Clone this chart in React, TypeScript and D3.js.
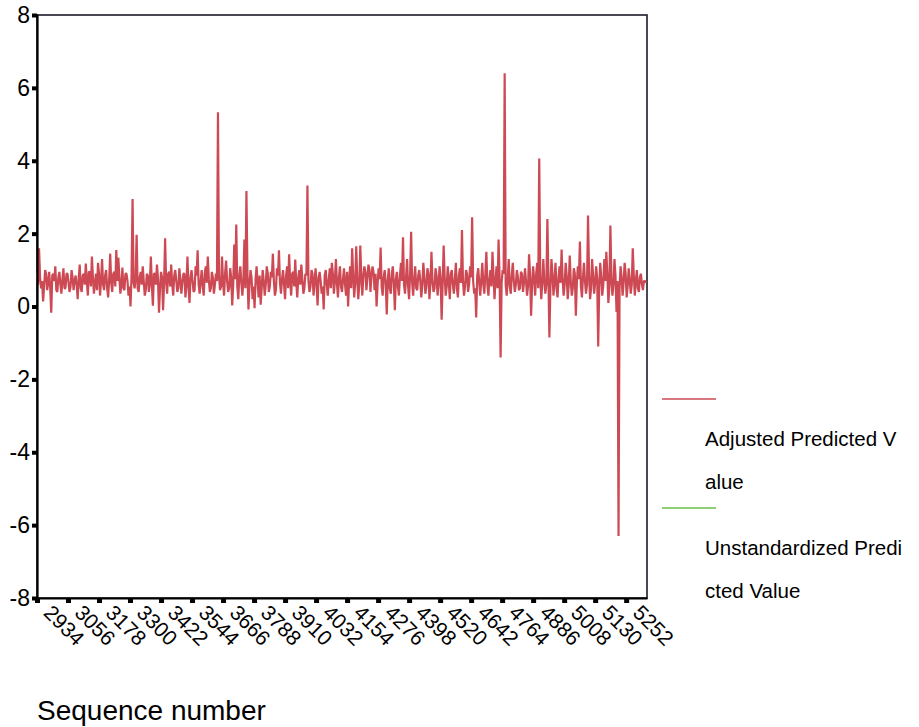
import { useEffect, useRef } from "react";
import * as d3 from "d3";

// Sequence numbers: cases sampled every 4th case, starting at case 2934
const firstCase = 2934;
const caseStep = 8; // step within each array; the two arrays interleave
const lastCase = 5334;

// Adjusted predicted value at cases 2934, 2942, 2950, ... (peaks and dips of the band)
const adjustedValues = [
  0.9, 1.6, 0.5, 0.14, 1.0, 0.45, 0.95, -0.17, 0.9, 1.1, 0.4, 0.95, 0.35, 1.05, 0.5, 0.9, 0.4, 1.0, 0.45, 0.85,
  0.2, 1.15, 0.4, 0.9, 1.18, 0.3, 0.95, 1.37, 0.35, 0.9, 1.2, 0.3, 1.3, 0.45, 1.0, 0.25, 1.45, 0.4, 0.95, 1.55,
  1.34, 0.35, 1.07, 0.45, 0.9, 0.3, 0.0, 2.95, 0.5, 1.97, 0.4, 0.95, 1.1, 0.3, 0.9, 0.4, 1.37, 0.02, 0.9, 1.15,
  -0.17, 0.95, -0.1, 1.87, 0.35, 0.95, 1.15, 0.3, 1.0, 0.4, 1.05, 0.35, 0.9, 0.25, 1.37, 0.1, 1.0, 0.4, 1.1, 1.54,
  0.35, 1.0, 0.3, 1.1, 1.37, 0.4, 0.95, 0.35, 0.9, 5.33, 0.45, 1.37, 0.3, 1.26, 0.4, 1.05, 0.03, 1.7, 2.25, 0.2,
  1.1, 0.3, 1.84, 3.17, -0.08, 1.0, 0.2, -0.05, 1.1, 0.25, 0.05, 1.0, 0.3, 1.1, 0.4, 0.95, 1.45, 0.3, 1.05, 1.54,
  0.35, 1.0, 0.2, 1.1, 1.43, 0.3, 0.95, 1.29, 0.25, 1.0, 1.15, 0.35, 0.9, 3.32, 0.4, 1.0, 0.3, 1.05, 0.03, 0.95,
  0.35, -0.08, 1.0, 0.3, 1.05, 1.2, 0.35, 1.3, 0.25, 1.1, 0.4, 1.05, 0.3, 0.0, 1.1, 1.6, 0.25, 1.65, 0.2, 1.67,
  0.3, 1.1, 0.45, 1.15, 0.4, 1.1, 0.45, 0.0, 1.05, 1.62, 0.3, 1.0, -0.22, 1.05, 0.35, 1.1, -0.1, 0.95, 0.3, 1.2,
  1.9, 0.35, 1.3, 0.2, 2.05, 0.3, 1.1, 0.45, 1.0, 0.25, 1.2, 0.35, 1.05, 0.2, 1.5, 0.4, 1.05, 0.3, 1.1, -0.36,
  1.67, 0.3, 1.1, 0.2, 1.0, 0.35, 1.2, 0.25, 1.05, 2.1, 0.3, 1.0, 0.4, 1.1, 2.45, 0.35, -0.3, 1.05, 0.3, 1.2,
  0.35, 1.5, 0.3, 1.0, 1.5, 0.2, 1.1, 1.84, -1.4, 1.0, 6.4, 0.3, 1.3, 0.35, 1.2, 0.4, 1.0, 0.45, 0.95, 0.4,
  1.05, 0.3, 1.43, -0.25, 1.1, 0.3, 1.2, 4.06, 0.2, 1.3, 0.35, 2.4, -0.85, 1.3, 0.3, 1.2, 0.25, 1.1, 1.56, 0.3,
  1.2, 0.2, 1.4, 0.3, 1.05, -0.25, 1.1, 1.78, 0.25, 1.2, 0.35, 2.5, 0.2, 1.3, 0.35, 1.1, -1.1, 1.2, 0.3, 1.3,
  1.5, 0.1, 2.22, 0.3, 1.3, -0.15, -6.3, 1.1, 0.3, 1.2, 0.25, 1.05, 0.35, 1.6, 0.3, 1.0, 0.4, 0.9, 0.45, 0.7,
];

// Adjusted predicted value at cases 2938, 2946, 2954, ... (inside the dense band)
const bandValues = [
  0.6, 0.8, 0.7, 0.55, 0.9, 0.65, 0.5, 0.85, 0.7, 0.45, 0.8, 0.6, 0.75, 0.5, 0.9, 0.65, 0.55, 0.8, 0.7, 0.6,
  0.75, 0.5, 0.85, 0.6, 0.7, 0.95, 0.55, 0.8, 0.65, 0.45, 0.9, 0.7, 0.6, 0.85, 0.5, 0.75, 0.65, 0.9, 0.55, 0.7,
  0.8, 0.6, 0.5, 0.9, 0.7, 0.55, 0.85, 0.65, 0.75, 0.5, 0.8, 0.6, 0.7, 0.45, 0.85, 0.65, 0.55, 0.9, 0.6, 0.75,
  0.5, 0.8, 0.65, 0.7, 0.9, 0.55, 0.6, 0.85, 0.7, 0.5, 0.75, 0.65, 0.9, 0.6, 0.55, 0.8, 0.7, 0.45, 0.85, 0.6,
  0.7, 0.55, 0.9, 0.65, 0.75, 0.5, 0.8, 0.6, 0.7, 0.85, 0.55, 0.65, 0.9, 0.7, 0.5, 0.8, 0.6, 0.75, 0.55, 0.85,
  0.65, 0.7, 0.5, 0.9, 0.6, 0.8, 0.55, 0.75, 0.65, 0.85, 0.5, 0.7, 0.6, 0.9, 0.55, 0.8, 0.7, 0.45, 0.85, 0.65,
  0.75, 0.6, 0.85, 0.5, 0.7, 0.9, 0.55, 0.65, 0.8, 0.6, 0.75, 0.5, 0.85, 0.7, 0.55, 0.9, 0.65, 0.6, 0.8, 0.7,
  0.55, 0.85, 0.6, 0.75, 0.5, 0.9, 0.7, 0.65, 0.8, 0.55, 0.75, 0.6, 0.95, 0.7, 0.5, 0.85, 0.65, 0.75, 0.6, 0.8,
  0.85, 0.95, 0.8, 1.0, 0.85, 0.95, 0.9, 0.6, 0.75, 0.55, 0.8, 0.65, 0.7, 0.5, 0.9, 0.6, 0.75, 0.55, 0.85, 0.7,
  0.6, 0.8, 0.55, 0.9, 0.65, 0.75, 0.5, 0.85, 0.7, 0.6, 0.8, 0.55, 0.9, 0.65, 0.7, 0.5, 0.85, 0.6, 0.75, 0.65,
  0.8, 0.55, 0.7, 0.9, 0.6, 0.75, 0.5, 0.85, 0.65, 0.7, 0.55, 0.9, 0.6, 0.8, 0.7, 0.5, 0.85, 0.65, 0.75, 0.6,
  0.9, 0.6, 0.75, 0.55, 0.85, 0.7, 0.5, 0.8, 0.65, 0.9, 0.6, 0.75, 0.55, 0.85, 0.7, 0.6, 0.8, 0.5, 0.9, 0.65,
  0.7, 0.55, 0.85, 0.6, 0.75, 0.9, 0.5, 0.8, 0.65, 0.7, 0.6, 0.85, 0.55, 0.9, 0.7, 0.5, 0.8, 0.65, 0.75, 0.6,
  0.85, 0.6, 0.7, 0.5, 0.9, 0.65, 0.75, 0.55, 0.8, 0.7, 0.6, 0.9, 0.5, 0.85, 0.65, 0.75, 0.55, 0.8, 0.6, 0.7,
  0.9, 0.55, 0.75, 0.6, 0.85, 0.7, 0.5, 0.8, 0.65, 0.9, 0.55, 0.75, 0.6, 0.85, 0.7, 0.5, 0.8, 0.6, 0.7, 0.65,
];

const xTickLabels = [
  2934, 3056, 3178, 3300, 3422, 3544, 3666, 3788, 3910, 4032,
  4154, 4276, 4398, 4520, 4642, 4764, 4886, 5008, 5130, 5252,
];
const yTicks = [-8, -6, -4, -2, 0, 2, 4, 6, 8];

const seriesNames = [
  ["Adjusted Predicted V", "alue"],
  ["Unstandardized Predi", "cted Value"],
];
const seriesColors = ["#cd4a55", "#6cbf4a"];

const App = () => {
  const ref = useRef<SVGSVGElement | null>(null);

  useEffect(() => {
    if (!ref.current) return;
    d3.select(ref.current).selectAll("*").remove();

    const width = 919;
    const height = 727;
    const plot = { left: 37, right: 647, top: 15, bottom: 598 };
    const font = "'Liberation Sans', Arial, sans-serif";

    const svg = d3
      .select(ref.current)
      .attr("width", width)
      .attr("height", height)
      .style("font-family", font);

    const x = d3
      .scaleLinear()
      .domain([firstCase, lastCase])
      .range([plot.left, plot.right]);

    const y = d3.scaleLinear().domain([-8, 8]).range([plot.bottom, plot.top]);

    // interleave the two sampled arrays into one case-ordered series
    const series: { seq: number; v: number }[] = [];
    adjustedValues.forEach((v, i) => {
      series.push({ seq: firstCase + i * caseStep, v });
      if (i < bandValues.length)
        series.push({ seq: firstCase + i * caseStep + caseStep / 2, v: bandValues[i] });
    });

    // frame (top + right)
    svg
      .append("rect")
      .attr("x", plot.left)
      .attr("y", plot.top)
      .attr("width", plot.right - plot.left)
      .attr("height", plot.bottom - plot.top)
      .attr("fill", "none")
      .attr("stroke", "#1c1c2a")
      .attr("stroke-width", 1.6);

    const line = d3
      .line<{ seq: number; v: number }>()
      .x((d) => x(d.seq))
      .y((d) => y(d.v));

    svg
      .append("path")
      .datum(series)
      .attr("d", line)
      .attr("fill", "none")
      .attr("stroke", seriesColors[0])
      .attr("stroke-width", 2.2)
      .attr("stroke-linejoin", "bevel");

    // Y axis
    const yAxis = svg
      .append("g")
      .attr("transform", `translate(${plot.left},0)`)
      .call(
        d3
          .axisLeft(y)
          .tickValues(yTicks)
          .tickSize(5)
          .tickPadding(2)
          .tickFormat((d) => String(d))
      );
    yAxis.select(".domain").attr("stroke", "#000").attr("stroke-width", 2.2);
    yAxis.selectAll(".tick line").attr("stroke", "#000").attr("stroke-width", 4);
    yAxis
      .selectAll(".tick text")
      .attr("fill", "#000")
      .style("font-size", "23px")
      .style("font-family", font);

    // X axis
    const xAxis = svg
      .append("g")
      .attr("transform", `translate(0,${plot.bottom})`)
      .call(
        d3
          .axisBottom(x)
          .tickValues(xTickLabels)
          .tickSize(5)
          .tickSizeOuter(0)
          .tickFormat((d) => String(d))
      );
    xAxis.select(".domain").attr("stroke", "#000").attr("stroke-width", 2.2);
    xAxis.selectAll(".tick line").attr("stroke", "#000").attr("stroke-width", 5);
    xAxis
      .selectAll(".tick text")
      .attr("fill", "#000")
      .attr("text-anchor", "start")
      .attr("dy", 0)
      .attr("y", 0)
      .attr("transform", "translate(5,16) rotate(45)")
      .style("font-size", "21px")
      .style("font-family", font);

    // X title
    svg
      .append("text")
      .attr("x", 37)
      .attr("y", 720)
      .attr("fill", "#000")
      .style("font-size", "28px")
      .text("Sequence number");

    // Legend
    const legend = svg.append("g");
    const legendRows = [399, 508];
    seriesNames.forEach((lines, k) => {
      const top = legendRows[k];
      legend
        .append("line")
        .attr("x1", 662)
        .attr("x2", 716)
        .attr("y1", top)
        .attr("y2", top)
        .attr("stroke", seriesColors[k])
        .attr("stroke-width", 1.6);
      lines.forEach((t, j) => {
        legend
          .append("text")
          .attr("x", 705)
          .attr("y", top + 47 + j * 43)
          .attr("fill", "#000")
          .style("font-size", "20.5px")
          .text(t);
      });
    });
  }, []);

  return (
    <svg
      ref={ref}
      style={{ position: "absolute", left: 0, top: 0, background: "#fff" }}
    ></svg>
  );
};

export default App;
